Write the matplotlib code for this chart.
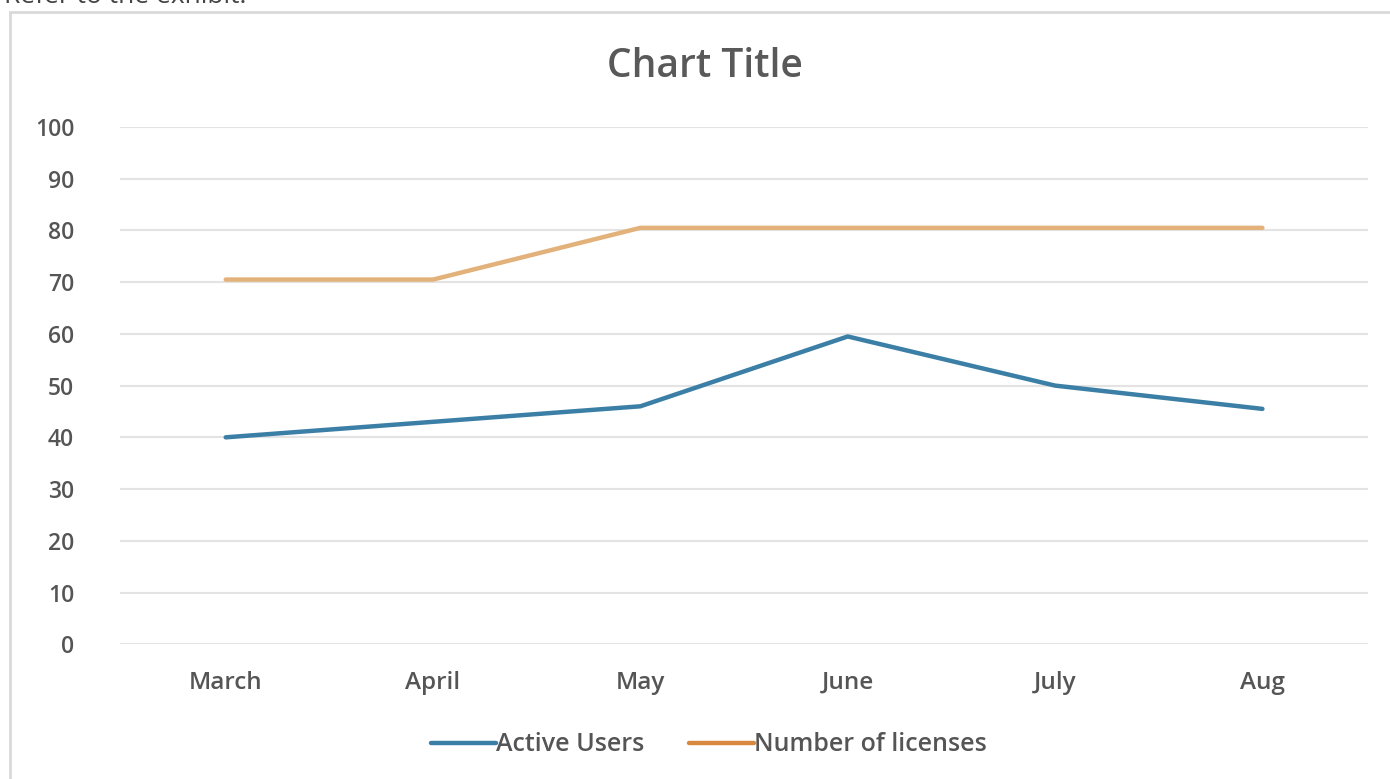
import matplotlib.pyplot as plt
from matplotlib.patches import Rectangle

months = ['March', 'April', 'May', 'June', 'July', 'Aug']
active_users = [40, 43, 46, 59.5, 50, 45.5]
licenses = [70.5, 70.5, 80.5, 80.5, 80.5, 80.5]
yticks = [0, 10, 20, 30, 40, 50, 60, 70, 80, 90, 100]

plt.rcParams['font.family'] = ['Open Sans', 'DejaVu Sans']

fig = plt.figure(figsize=(13.9, 7.79), dpi=100)
ax = fig.add_axes([0.0863, 0.173, 0.898, 0.664])

# outer chart frame, cropped screenshot
fig.patches.append(Rectangle((10 / 1390, -0.01), 1.0, 1 - 12 / 779 + 0.01,
                             transform=fig.transFigure, fill=False,
                             edgecolor='#d9d9d9', linewidth=2))
fig.text(0.003, 0.9965, 'Refer to the exhibit.', fontsize=19, color='#444444', va='baseline')

x = list(range(len(months)))
ax.plot(x, active_users, color='#3b7fa6', linewidth=3.2, label='Active Users', solid_capstyle='round')
ax.plot(x, licenses, color='#e3b27a', linewidth=3.2, label='Number of licenses', solid_capstyle='round')

ax.set_xlim(-0.51, 5.51)
ax.set_ylim(0, 100)
ax.set_yticks(yticks)
ax.set_xticks(x)
ax.set_xticklabels(months)
ax.grid(axis='y', color='#e3e3e3', linewidth=1.5)
ax.set_axisbelow(True)
for s in ax.spines.values():
    s.set_visible(False)
ax.tick_params(length=0, colors='#555555')
ax.tick_params(axis='y', pad=33, labelsize=16.5)
ax.tick_params(axis='x', pad=19, labelsize=17.5)
for lbl in ax.get_xticklabels() + ax.get_yticklabels():
    lbl.set_fontweight('semibold')

fig.text(0.507, 0.914, 'Chart Title', ha='center', va='center', fontsize=28, color='#595959',
         fontweight='semibold')

leg = ax.legend(loc='upper center', bbox_to_anchor=(0.472, -0.127), ncol=2, frameon=False,
                handlelength=2.6, handletextpad=0.0, columnspacing=1.8,
                labelcolor='#555555', prop={'weight': 'semibold', 'size': 18})
leg.legend_handles[1].set_color('#d9893f')

fig.savefig('out.png', dpi=100)
